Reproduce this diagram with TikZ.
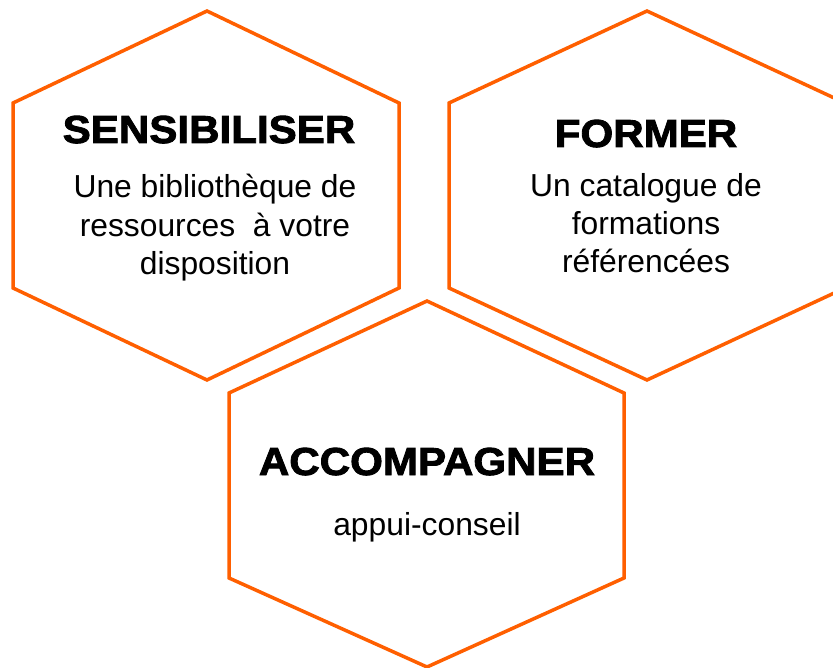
\documentclass[tikz,border=0pt]{standalone}
\usepackage{fontspec}
\setmainfont{Liberation Sans}
\newfontfamily\blackfont{Liberation Sans}[BoldFeatures={FakeBold=2.2,FakeStretch=1.08}]
\definecolor{hexorange}{RGB}{255,95,0}
\begin{document}
\begin{tikzpicture}[x=1pt,y=-1pt,
  hexa/.style={draw=hexorange, line width=3.5pt, line join=miter, fill=white},
  titletext/.style={font=\blackfont\bfseries\fontsize{39}{43}\selectfont, anchor=base, inner sep=0pt},
  bodytext/.style={font=\fontsize{31.8}{38}\selectfont, anchor=base, inner sep=0pt}]
\useasboundingbox (0,0) rectangle (833,668);
\clip (0,0) rectangle (833,668);
% hexagons
\draw[hexa] (207,11) -- (399,103) -- (399,288) -- (207,380) -- (13,288) -- (13,103) -- cycle;
\draw[hexa] (647,11) -- (845,103) -- (845,288) -- (647,380) -- (449,288) -- (449,103) -- cycle;
\draw[hexa] (427,301) -- (624,393) -- (624,578) -- (427,667) -- (229,578) -- (229,393) -- cycle;
% texts
\node[titletext] (t1) at (209,143) {SENSIBILISER};
\node[bodytext] (b1a) at (215,198) {Une bibliothèque de};
\node[bodytext] (b1b) at (215,237) {ressources\ \ à votre};
\node[bodytext] (b1c) at (215,275) {disposition};
\node[titletext] (t2) at (646,147) {FORMER};
\node[bodytext] (b2a) at (646,197) {Un catalogue de};
\node[bodytext] (b2b) at (646,235) {formations};
\node[bodytext] (b2c) at (646,273) {référencées};
\node[titletext] (t3) at (427,475) {ACCOMPAGNER};
\node[bodytext] (b3) at (427,535) {appui-conseil};
\end{tikzpicture}
\end{document}
